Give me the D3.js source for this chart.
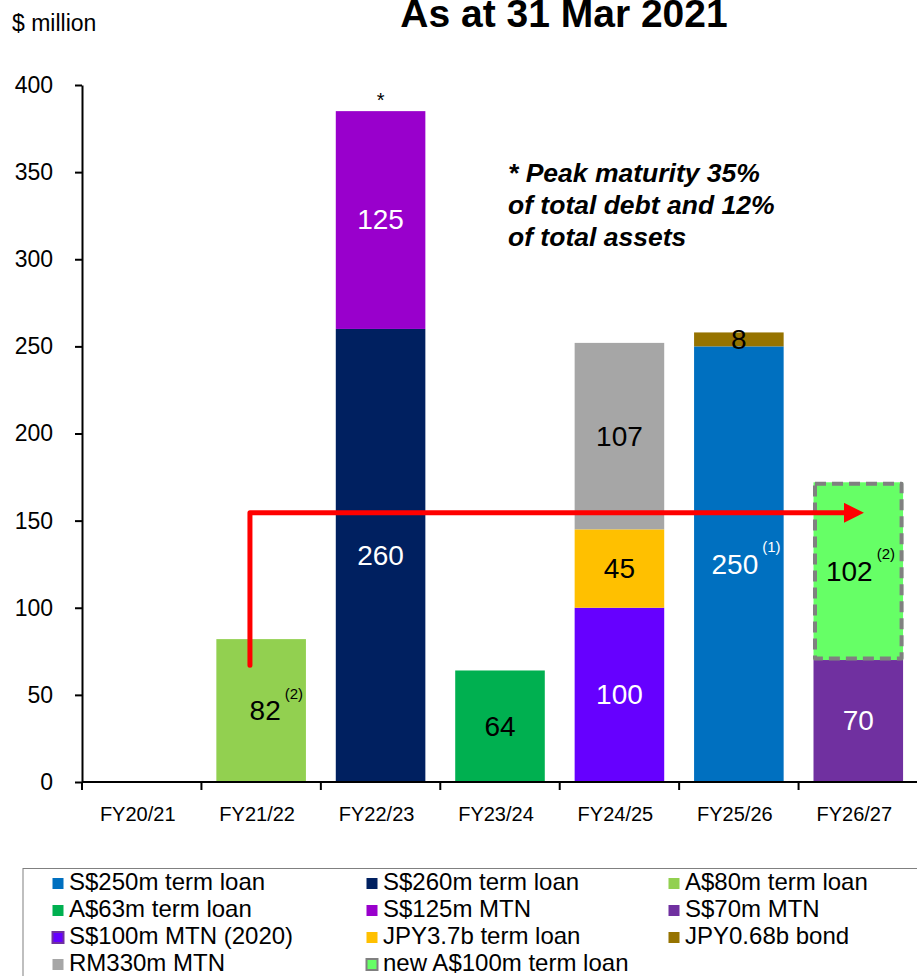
<!DOCTYPE html>
<html>
<head>
<meta charset="utf-8">
<script src="https://cdn.jsdelivr.net/npm/d3@7"></script>
<style>
  html, body { margin: 0; padding: 0; background: #fff; }
  svg { display: block; font-family: "Liberation Sans", Arial, sans-serif; }
</style>
</head>
<body>
<svg id="chart" width="917" height="976"></svg>
<script>
// Financial years on the x axis
const categories = ["FY20/21", "FY21/22", "FY22/23", "FY23/24", "FY24/25", "FY25/26", "FY26/27"];

// Debt maturing per facility, $ million, one value per financial year
const s250TermLoan   = [0, 0, 0, 0, 0, 250, 0];
const s260TermLoan   = [0, 0, 260, 0, 0, 0, 0];
const a80TermLoan    = [0, 82, 0, 0, 0, 0, 0];
const a63TermLoan    = [0, 0, 0, 64, 0, 0, 0];
const s70Mtn         = [0, 0, 0, 0, 0, 0, 70];
const s100Mtn2020    = [0, 0, 0, 0, 100, 0, 0];
const jpy37TermLoan  = [0, 0, 0, 0, 45, 0, 0];
const jpy068Bond     = [0, 0, 0, 0, 0, 8, 0];
const s125Mtn        = [0, 0, 125, 0, 0, 0, 0];
const rm330Mtn       = [0, 0, 0, 0, 107, 0, 0];
const newA100TermLoan= [0, 0, 0, 0, 0, 0, 102];

const yTicks = [0, 50, 100, 150, 200, 250, 300, 350, 400];

// Footnote markers attached to some segment labels
const footnotes = [
  { key: "a80", category: "FY21/22", mark: "(2)" },
  { key: "s250", category: "FY25/26", mark: "(1)" },
  { key: "newA100", category: "FY26/27", mark: "(2)" }
];

// Series in stacking order (bottom to top)
const series = [
  { key: "s250",    name: "S$250m term loan",      values: s250TermLoan,    color: "#0070C0", text: "#fff" },
  { key: "s260",    name: "S$260m term loan",      values: s260TermLoan,    color: "#002060", text: "#fff" },
  { key: "a80",     name: "A$80m term loan",       values: a80TermLoan,     color: "#92D050", text: "#000" },
  { key: "a63",     name: "A$63m term loan",       values: a63TermLoan,     color: "#00B050", text: "#000" },
  { key: "s70",     name: "S$70m MTN",             values: s70Mtn,          color: "#7030A0", text: "#fff" },
  { key: "s100",    name: "S$100m MTN (2020)",     values: s100Mtn2020,     color: "#6600FF", text: "#fff", stroke: "#7030A0" },
  { key: "jpy37",   name: "JPY3.7b term loan",     values: jpy37TermLoan,   color: "#FFC000", text: "#000" },
  { key: "jpy068",  name: "JPY0.68b bond",         values: jpy068Bond,      color: "#967300", text: "#000" },
  { key: "s125",    name: "S$125m MTN",            values: s125Mtn,         color: "#9900CC", text: "#fff" },
  { key: "rm330",   name: "RM330m MTN",            values: rm330Mtn,        color: "#A6A6A6", text: "#000" },
  { key: "newA100", name: "new A$100m term loan",  values: newA100TermLoan, color: "#66FF66", text: "#000", stroke: "#808080", dashed: true }
];

// Legend reading order (row by row, three columns)
const legendOrder = ["s250", "s260", "a80", "a63", "s125", "s70", "s100", "jpy37", "jpy068", "rm330", "newA100"];

const svg = d3.select("#chart");
const margin = { left: 82, right: 918, top: 85, bottom: 782 };

const x = d3.scaleBand().domain(categories).range([margin.left, margin.right])
  .paddingInner(0.25).paddingOuter(0.125);
const y = d3.scaleLinear().domain([0, 400]).range([margin.bottom, margin.top]);

// Stack the rows
const rows = categories.map((c, i) => {
  const r = { category: c };
  series.forEach(s => { r[s.key] = s.values[i]; });
  return r;
});
const stacked = d3.stack().keys(series.map(s => s.key))(rows);
const byKey = Object.fromEntries(series.map(s => [s.key, s]));

// Bars
const layers = svg.append("g").selectAll("g").data(stacked).join("g");
layers.each(function (layer) {
  const s = byKey[layer.key];
  const segs = layer.filter(d => d[1] - d[0] > 0);
  const g = d3.select(this);
  g.selectAll("rect").data(segs).join("rect")
    .attr("x", d => x(d.data.category))
    .attr("y", d => y(d[1]))
    .attr("width", x.bandwidth())
    .attr("height", d => y(d[0]) - y(d[1]))
    .attr("fill", s.color);
  if (s.dashed) {
    g.selectAll("rect.outline").data(segs).join("rect")
      .attr("class", "outline")
      .attr("x", d => x(d.data.category) + 1.5)
      .attr("y", d => y(d[1]) + 1.5)
      .attr("width", x.bandwidth() - 3)
      .attr("height", d => y(d[0]) - y(d[1]) - 3)
      .attr("fill", "none")
      .attr("stroke", s.stroke)
      .attr("stroke-width", 4)
      .attr("stroke-dasharray", "11,6")
      .attr("stroke-linejoin", "round");
  }
});

// Segment value labels
const labelShift = { "FY21/22": 4, "FY25/26": -4, "FY26/27": -9 };
stacked.forEach(layer => {
  const s = byKey[layer.key];
  layer.filter(d => d[1] - d[0] > 0).forEach(d => {
    const v = d[1] - d[0];
    const note = footnotes.find(f => f.key === layer.key && f.category === d.data.category);
    const cx = x(d.data.category) + x.bandwidth() / 2 + (note ? labelShift[d.data.category] : 0);
    const cy = (y(d[0]) + y(d[1])) / 2;
    const t = svg.append("text")
      .attr("x", cx).attr("y", cy + 2)
      .attr("text-anchor", "middle")
      .attr("dominant-baseline", "middle")
      .attr("font-size", 28)
      .attr("fill", s.text)
      .text(v);
    if (note) {
      const w = t.node().getComputedTextLength();
      svg.append("text")
        .attr("x", cx + w / 2 + 4).attr("y", cy - 16)
        .attr("dominant-baseline", "middle")
        .attr("font-size", 15)
        .attr("fill", s.text)
        .text(note.mark);
    }
  });
});

// Peak marker above the tallest bar
const totals = rows.map(r => d3.sum(series, s => r[s.key]));
const peakIdx = d3.maxIndex(totals);
svg.append("text")
  .attr("x", x(categories[peakIdx]) + x.bandwidth() / 2)
  .attr("y", y(totals[peakIdx]) - 4)
  .attr("text-anchor", "middle")
  .attr("font-size", 20)
  .text("*");

// Axes
const yAxis = d3.axisLeft(y).tickValues(yTicks).tickSize(7).tickPadding(22).tickSizeOuter(0);
const gy = svg.append("g").attr("transform", `translate(${margin.left},0)`).call(yAxis);
gy.select(".domain").attr("stroke", "#000").attr("stroke-width", 2);
gy.selectAll(".tick line").attr("stroke", "#000").attr("stroke-width", 2);
gy.selectAll(".tick text").attr("font-size", 23).attr("font-family", "Liberation Sans, Arial, sans-serif").attr("fill", "#000");

const gx = svg.append("g").attr("transform", `translate(0,${margin.bottom})`);
gx.append("line").attr("x1", margin.left).attr("x2", 917)
  .attr("y1", 0).attr("y2", 0).attr("stroke", "#000").attr("stroke-width", 2);
const boundaries = categories.map(c => x(c) - x.step() * x.paddingInner() / 2);
gx.selectAll("line.tk").data(boundaries).join("line")
  .attr("class", "tk")
  .attr("x1", d => d).attr("x2", d => d)
  .attr("y1", 0).attr("y2", 8)
  .attr("stroke", "#000").attr("stroke-width", 2);
gx.selectAll("text").data(categories).join("text")
  .attr("x", d => x(d) + x.bandwidth() / 2 - 4)
  .attr("y", 34)
  .attr("text-anchor", "middle")
  .attr("dominant-baseline", "middle")
  .attr("font-size", 20)
  .text(d => d);

// Axis unit and title
svg.append("text").attr("x", 12).attr("y", 31).attr("font-size", 23).text("$ million");
svg.append("text").attr("x", 564).attr("y", 27).attr("text-anchor", "middle")
  .attr("font-size", 39).attr("font-weight", "bold").text("As at 31 Mar 2021");

// Note on peak maturity
const noteLines = ["* Peak maturity 35%", "of total debt and 12%", "of total assets"];
svg.append("g").selectAll("text").data(noteLines).join("text")
  .attr("x", 508)
  .attr("y", (d, i) => 182 + i * 32)
  .attr("font-size", 26.5)
  .attr("font-weight", "bold")
  .attr("font-style", "italic")
  .text(d => d);

// Refinancing arrow from FY21/22 to FY26/27
svg.append("defs").append("marker")
  .attr("id", "head").attr("viewBox", "0 0 10 10")
  .attr("refX", 0).attr("refY", 5)
  .attr("markerWidth", 4).attr("markerHeight", 4)
  .attr("markerUnits", "strokeWidth")
  .attr("orient", "auto")
  .append("path").attr("d", "M0,0 L10,5 L0,10 Z").attr("fill", "#FF0000");
const ax0 = x("FY21/22") + x.bandwidth() * 0.375;
const ax1 = x("FY26/27") + x.bandwidth() * 0.34;
svg.append("path")
  .attr("d", d3.line()([[ax0, y(67)], [ax0, y(154.5)], [ax1, y(154.5)]]))
  .attr("fill", "none")
  .attr("stroke", "#FF0000")
  .attr("stroke-width", 5)
  .attr("stroke-linejoin", "round")
  .attr("stroke-linecap", "round")
  .attr("marker-end", "url(#head)");

// Legend
svg.append("rect").attr("x", 23).attr("y", 868.5).attr("width", 1000).attr("height", 200)
  .attr("fill", "none").attr("stroke", "#808080").attr("stroke-width", 1);
const colX = [52, 366, 668];
const rowY = [883, 910, 937, 964];
const lg = svg.append("g").selectAll("g").data(legendOrder.map(k => byKey[k])).join("g")
  .attr("transform", (d, i) => `translate(${colX[i % 3]},${rowY[Math.floor(i / 3)]})`);
lg.append("rect")
  .attr("x", 0.5).attr("y", -5).attr("width", 11).attr("height", 11)
  .attr("fill", d => d.color)
  .attr("stroke", d => d.stroke || "none")
  .attr("stroke-width", d => d.stroke ? 2 : 0);
lg.append("text")
  .attr("x", 17).attr("y", 1)
  .attr("dominant-baseline", "middle")
  .attr("font-size", 24)
  .text(d => d.name);
</script>
</body>
</html>
